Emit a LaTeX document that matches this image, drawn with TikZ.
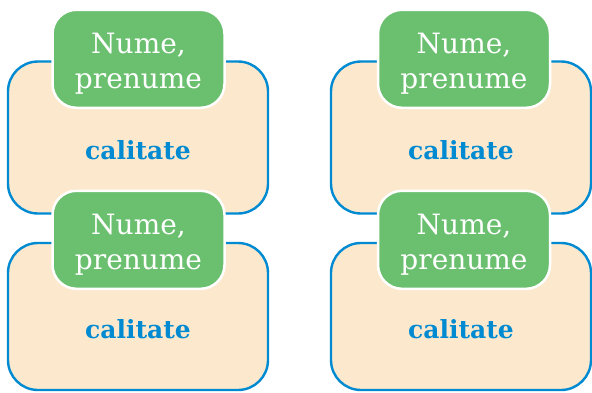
\documentclass[tikz,border=0pt]{standalone}
\usepackage{fontspec}
\setmainfont{DejaVu Serif}
\usetikzlibrary{positioning}
\definecolor{cardfill}{RGB}{252,233,205}
\definecolor{cardblue}{RGB}{0,138,210}
\definecolor{namegreen}{RGB}{107,192,112}
\tikzset{
	card/.style={draw=cardblue, fill=cardfill, line width=2.4pt, rounded corners=30pt, minimum width=260pt, minimum height=152pt, inner sep=0pt},
	namebox/.style={draw=white, fill=namegreen, line width=2.5pt, rounded corners=24pt, minimum width=172pt, minimum height=98pt, inner sep=0pt, text=white, font=\fontsize{28}{35}\selectfont},
	role/.style={text=cardblue, font=\fontsize{25}{30}\selectfont\bfseries}
}
\newcommand{\namelines}{\raisebox{-5pt}[\height][\depth]{\begin{tabular}{@{}c@{}}Nume,\\prenume\end{tabular}}}
\begin{document}
\begin{tikzpicture}[x=1pt,y=-1pt, line join=round]
	\useasboundingbox (0,0) rectangle (592,392);
	% two columns of cards, top and bottom
	\foreach \c/\x/\g in {l/138/0.5, r/461/3}{
		\node[card] (\c top) at (\x,137.5) {};
		\node[namebox] (\c topname) at ([xshift=\g pt, yshift=1.5pt]\c top.north) {\namelines};
		\node[role] (\c toprole) at ([yshift=-13pt]\c top.center) {calitate};
		\node[card, minimum height=147pt] (\c bot) at (\x,316.5) {};
		\node[namebox] (\c botname) at ([xshift=\g pt, yshift=2pt]\c bot.north) {\namelines};
		\node[role] (\c botrole) at ([yshift=-13pt]\c bot.center) {calitate};
	}
\end{tikzpicture}
\end{document}
